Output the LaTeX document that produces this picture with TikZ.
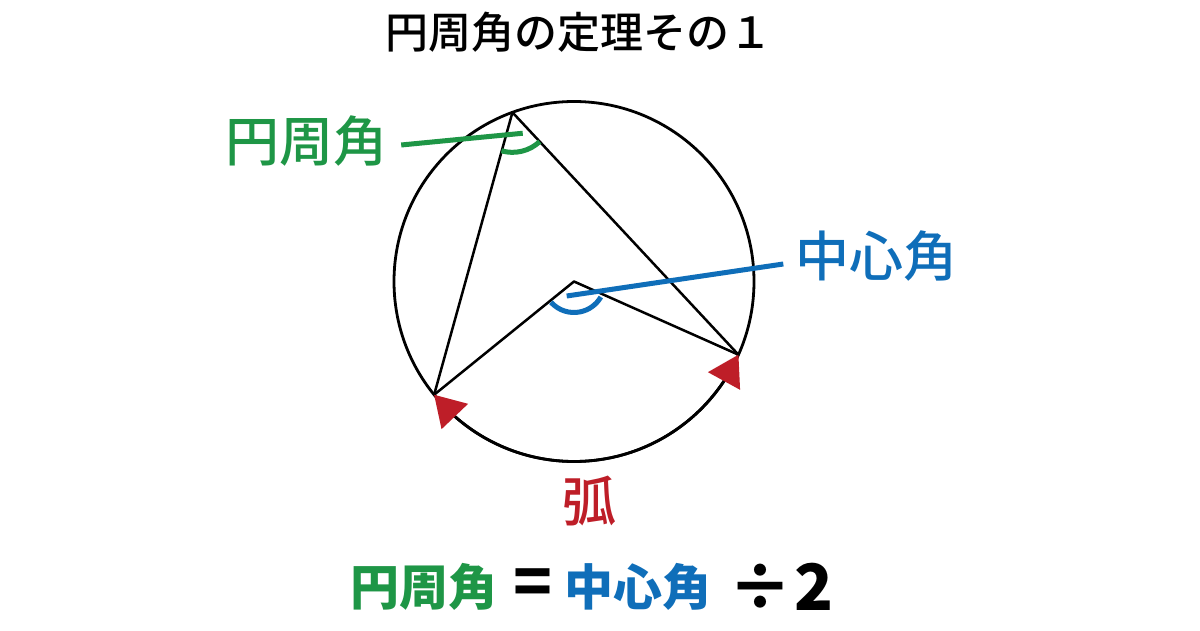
\documentclass[tikz,border=0pt]{standalone}
\usepackage{fontspec}
\newfontfamily\jpfont{Noto Sans CJK JP}
\IfFontExistsTF{Noto Sans CJK JP Medium}
  {\newfontfamily\jpmid{Noto Sans CJK JP Medium}}
  {\newfontfamily\jpmid[FakeBold=1.2]{Noto Sans CJK JP}}
\usepackage{tikz}
\usetikzlibrary{arrows.meta,bending,calc,positioning}
\usepackage{xcolor}
\definecolor{insgreen}{RGB}{30,150,70}
\definecolor{cenblue}{RGB}{15,110,185}
\definecolor{arcred}{RGB}{190,30,40}

\begin{document}
\begin{tikzpicture}[
    x=1pt, y=1pt,
    every node/.style={inner sep=0pt, font=\jpfont},
    edgeline/.style={draw, line width=2.5pt, line join=round},
    insmark/.style={draw=insgreen, line width=5pt},
    cenmark/.style={draw=cenblue, line width=5pt},
    arctip/.tip={Triangle[length=30pt, width=36pt, color=arcred]},
    bigfont/.style={font=\jpmid\fontsize{54}{54}\selectfont},
    eqfont/.style={font=\jpfont\bfseries\fontsize{49}{49}\selectfont},
    symfont/.style={font=\jpfont\bfseries\fontsize{64}{64}\selectfont}
]
\path[use as bounding box, fill=white] (0,0) rectangle (1200,630);

% circle and points
\coordinate (O) at (574,348.5);
\path (O) ++(110:180) coordinate (P);
\path (O) ++(219:180) coordinate (A);
\path (O) ++(336:180) coordinate (B);
\draw[line width=2.8pt] (O) circle[radius=180];

% the two angles
\draw[edgeline] (A) -- (P) -- (B);
\draw[edgeline] (A) -- (O) -- (B);

% arc with tips
\draw[line width=2.8pt, arctip-arctip] (A) arc[start angle=219, end angle=336, radius=180];

% angle marks
\draw[insmark] (P) ++(254:40) arc[start angle=254, end angle=313, radius=40];
\draw[cenmark] (O) ++(222:31) arc[start angle=222, end angle=330, radius=31];

% labels
\node[font=\jpmid\fontsize{43}{43}\selectfont] (title) at (579,597.5) {円周角の定理その１};
\node[bigfont, text=insgreen] (lblIns) at (306,488.5) {円周角};
\node[bigfont, text=cenblue] (lblCen) at (876.5,373.5) {中心角};
\node[bigfont, text=arcred] (lblArc) at (589,129) {弧};

% leader lines
\coordinate (gEnd) at ($(P)+(10.3,-20.9)$);
\coordinate (bStart) at ($(O)+(-7.3,-14.5)$);
\draw[insmark] (lblIns.east) ++(14,-3.5) -- (gEnd);
\draw[cenmark] (lblCen.west) ++(-12,-7.5) -- (bStart);

% formula
\node[eqfont, text=insgreen] (eqIns) at (423.5,43) {円周角};
\node[symfont] (eqEq) at (532.5,43) {=};
\node[eqfont, text=cenblue] (eqCen) at (637.5,43) {中心角};
\node[symfont] (eqDiv) at (760,43) {÷};
\node[symfont] (eqTwo) at (813.5,43) {2};

\end{tikzpicture}
\end{document}
